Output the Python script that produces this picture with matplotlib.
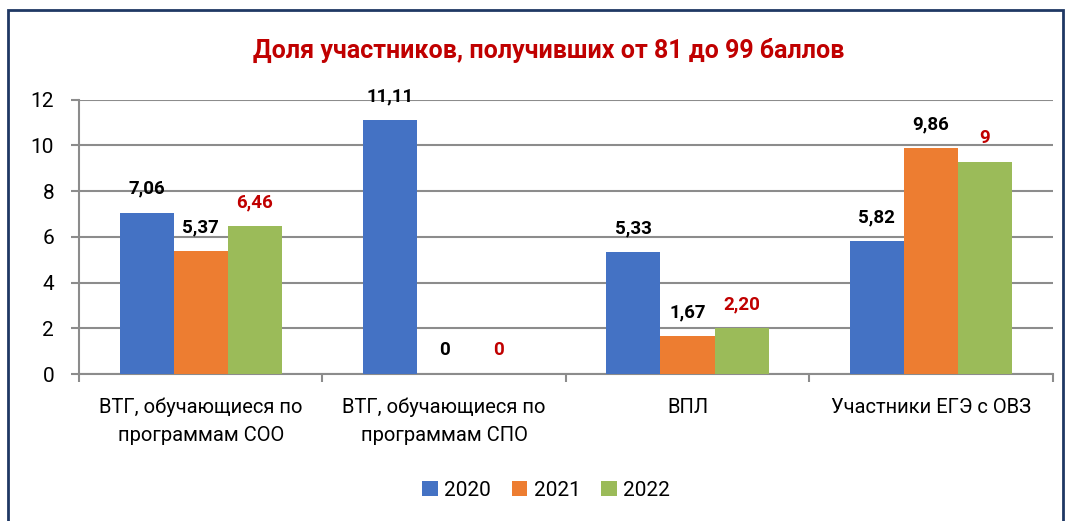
import numpy as np
import matplotlib.pyplot as plt
from matplotlib.patches import Rectangle

plt.rcParams['font.family'] = ['Roboto', 'DejaVu Sans']

# data
categories = ['ВТГ, обучающиеся по\nпрограммам СОО', 'ВТГ, обучающиеся по\nпрограммам СПО',
              'ВПЛ', 'Участники ЕГЭ с ОВЗ']
years = ['2020', '2021', '2022']
v2020 = [7.06, 11.11, 5.33, 5.82]
v2021 = [5.37, 0, 1.67, 9.86]
v2022 = [6.46, 0, 2.0, 9.27]   # drawn heights
lab2020 = ['7,06', '11,11', '5,33', '5,82']
lab2021 = ['5,37', '0', '1,67', '9,86']
lab2022 = ['6,46', '0', '2,20', '9']

colors = ['#4472C4', '#ED7D31', '#9BBB59']
lab_colors = ['black', 'black', '#C00000']
red = '#C00000'
grid_c = '#8C8C8C'

fig = plt.figure(figsize=(10.71, 5.21), dpi=100)
ax = fig.add_axes([0.0738, 0.282, 0.909, 0.527])

x = np.arange(len(categories))
w = 0.222
series = [v2020, v2021, v2022]
labels = [lab2020, lab2021, lab2022]
for i in range(3):
    bars = ax.bar(x + (i - 1) * w, series[i], w, color=colors[i], label=years[i], zorder=3)
    for b, t in zip(bars, labels[i]):
        ax.annotate(t, (b.get_x() + b.get_width() / 2, b.get_height()),
                    xytext=(0, 17), textcoords='offset points', ha='center', va='center',
                    fontsize=13.5, fontweight='bold', color=lab_colors[i])

ax.set_xlim(-0.5, 3.5)
ax.set_ylim(0, 12)
ax.set_yticks(np.arange(0, 13, 2))
ax.yaxis.grid(True, color=grid_c, linewidth=1.5, zorder=0)
ax.set_axisbelow(True)
ax.tick_params(axis='y', labelsize=15, length=6, width=1.5, color=grid_c, pad=12)

ax.set_xticks(x)
ax.set_xticklabels(categories, fontsize=14.5, linespacing=1.6)
ax.set_xticks(np.arange(-0.5, 4, 1), minor=True)
ax.tick_params(axis='x', which='major', length=0, pad=17)
ax.tick_params(axis='x', which='minor', length=6, width=1.5, color=grid_c)

for s in ['top', 'right']:
    ax.spines[s].set_visible(False)
for s in ['left', 'bottom']:
    ax.spines[s].set_color(grid_c)
    ax.spines[s].set_linewidth(1.5)

fig.text(0.512, 1 - 50 / 521, 'Доля участников, получивших от 81 до 99 баллов',
         ha='center', va='center', fontsize=18, fontweight='bold', color=red)

leg = fig.legend(loc='center', bbox_to_anchor=(0.51, 1 - 490 / 521), ncol=3, frameon=False,
                 fontsize=15, handlelength=0.75, handleheight=0.75, handletextpad=0.3,
                 columnspacing=1.0)

# outer frame
fig.patches.append(Rectangle((8 / 1071, -0.05), (1063 - 8) / 1071, 1.05 - 10 / 521,
                             transform=fig.transFigure, fill=False,
                             edgecolor='#1F3864', linewidth=2))

fig.savefig('out.png', dpi=100)
